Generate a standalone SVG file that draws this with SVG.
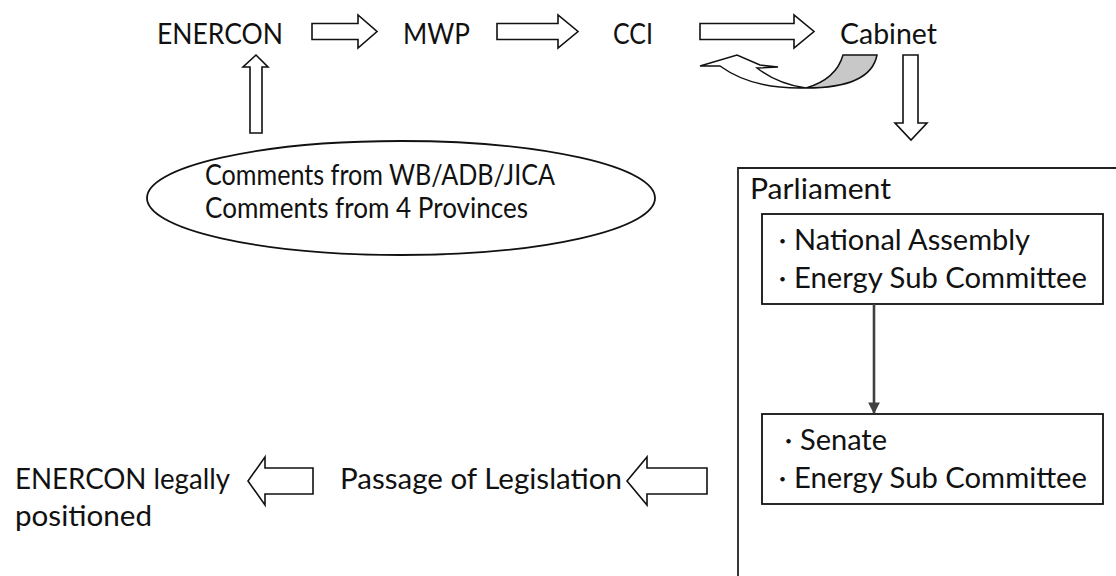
<svg xmlns="http://www.w3.org/2000/svg" width="1116" height="576" viewBox="0 0 1116 576">
  <defs>
    <style>
      .t { font-family: Lato, "Liberation Sans", "Noto Sans CJK JP", sans-serif; font-size: 28px; fill: #111; }
      .dot { font-family: "Noto Sans CJK JP", sans-serif; font-size: 21px; fill: #111; }
      .blk { fill: #fff; stroke: #111; stroke-width: 1.6; stroke-linejoin: miter; }
      .box { fill: #fff; stroke: #111; stroke-width: 1.8; }
    </style>
    <marker id="head" viewBox="0 0 10 10" refX="9" refY="5" markerWidth="4.5" markerHeight="4.5" markerUnits="strokeWidth" orient="auto">
      <path d="M0,0 L10,5 L0,10 Z" fill="#404040"/>
    </marker>
  </defs>

  <rect width="1116" height="576" fill="#fff"/>

  <!-- top row of bodies -->
  <g id="enercon"><text class="t" x="157" y="44" textLength="126" lengthAdjust="spacingAndGlyphs">ENERCON</text></g>
  <g id="mwp"><text class="t" x="403" y="44" textLength="67" lengthAdjust="spacingAndGlyphs">MWP</text></g>
  <g id="cci"><text class="t" x="613" y="44" textLength="40" lengthAdjust="spacingAndGlyphs">CCI</text></g>
  <g id="cabinet"><text class="t" x="840" y="44" textLength="97" lengthAdjust="spacingAndGlyphs">Cabinet</text></g>

  <!-- donor and provincial comments -->
  <g id="comments">
    <ellipse cx="401" cy="198" rx="254" ry="57" fill="#fff" stroke="#111" stroke-width="1.8"/>
    <text class="t" x="205" y="185" textLength="350" lengthAdjust="spacingAndGlyphs">Comments from WB/ADB/JICA</text>
    <text class="t" x="205" y="218" textLength="323" lengthAdjust="spacingAndGlyphs">Comments from 4 Provinces</text>
  </g>

  <!-- parliament frame, open to the right and bottom -->
  <g id="parliament">
    <path d="M1116,168 H738 V576" fill="none" stroke="#222" stroke-width="1.8"/>
    <text class="t" x="750" y="199" textLength="141" lengthAdjust="spacingAndGlyphs">Parliament</text>
  </g>

  <g id="national-assembly">
    <rect class="box" x="762" y="214" width="341" height="90"/>
    <text class="dot" x="772" y="249">・</text>
    <text class="t" x="794" y="250" textLength="236" lengthAdjust="spacingAndGlyphs">National Assembly</text>
    <text class="dot" x="772" y="287">・</text>
    <text class="t" x="794" y="288" textLength="293" lengthAdjust="spacingAndGlyphs">Energy Sub Committee</text>
  </g>

  <g id="senate">
    <rect class="box" x="762" y="414" width="341" height="90"/>
    <text class="dot" x="778" y="449">・</text>
    <text class="t" x="800" y="450" textLength="87" lengthAdjust="spacingAndGlyphs">Senate</text>
    <text class="dot" x="772" y="487">・</text>
    <text class="t" x="794" y="488" textLength="293" lengthAdjust="spacingAndGlyphs">Energy Sub Committee</text>
  </g>

  <!-- bottom row -->
  <g id="legislation"><text class="t" x="340" y="489" textLength="282" lengthAdjust="spacingAndGlyphs">Passage of Legislation</text></g>
  <g id="positioned">
    <text class="t" x="15" y="489" textLength="215" lengthAdjust="spacingAndGlyphs">ENERCON legally</text>
    <text class="t" x="15" y="526" textLength="137" lengthAdjust="spacingAndGlyphs">positioned</text>
  </g>

  <!-- connectors -->
  <g id="connectors">
    <!-- block arrows along the top row -->
    <polygon class="blk" points="312,23.5 358,23.5 358,15 377,31.5 358,48 358,39.5 312,39.5"/>
    <polygon class="blk" points="497,23.5 558,23.5 558,15 578,31.5 558,48 558,39.5 497,39.5"/>
    <polygon class="blk" points="700,23.5 794,23.5 794,15 814,31.5 794,48 794,39.5 700,39.5"/>
    <!-- comments feed up into ENERCON -->
    <polygon class="blk" points="250,133 250,67 243,67 256,55 268,67 262,67 262,133"/>
    <!-- Cabinet returns to CCI -->
    <path d="M843,55 L877,55 C873,76 850,88 806,88 C823,83 838,73 843,55 Z" fill="#c8c8c8" stroke="#111" stroke-width="1.5"/>
    <path d="M700,66 L737,55 L760,65 L778,67 L757,68 C770,78 784,85 806,88 C772,89 742,82 720,66 Z" fill="#fff" stroke="#111" stroke-width="1.5" stroke-linejoin="miter"/>
    <!-- Cabinet down to Parliament -->
    <polygon class="blk" points="903,55 918,55 918,123 927,123 911,140 895,123 903,123"/>
    <!-- National Assembly to Senate -->
    <line x1="874" y1="304" x2="874" y2="413" stroke="#404040" stroke-width="2.6" marker-end="url(#head)"/>
    <!-- Parliament to passage, passage to legal position -->
    <polygon class="blk" points="707,468 647,468 647,457 627,481 647,505 647,494 707,494"/>
    <polygon class="blk" points="313,468 265,468 265,457 248,481 265,505 265,494 313,494"/>
  </g>
</svg>
